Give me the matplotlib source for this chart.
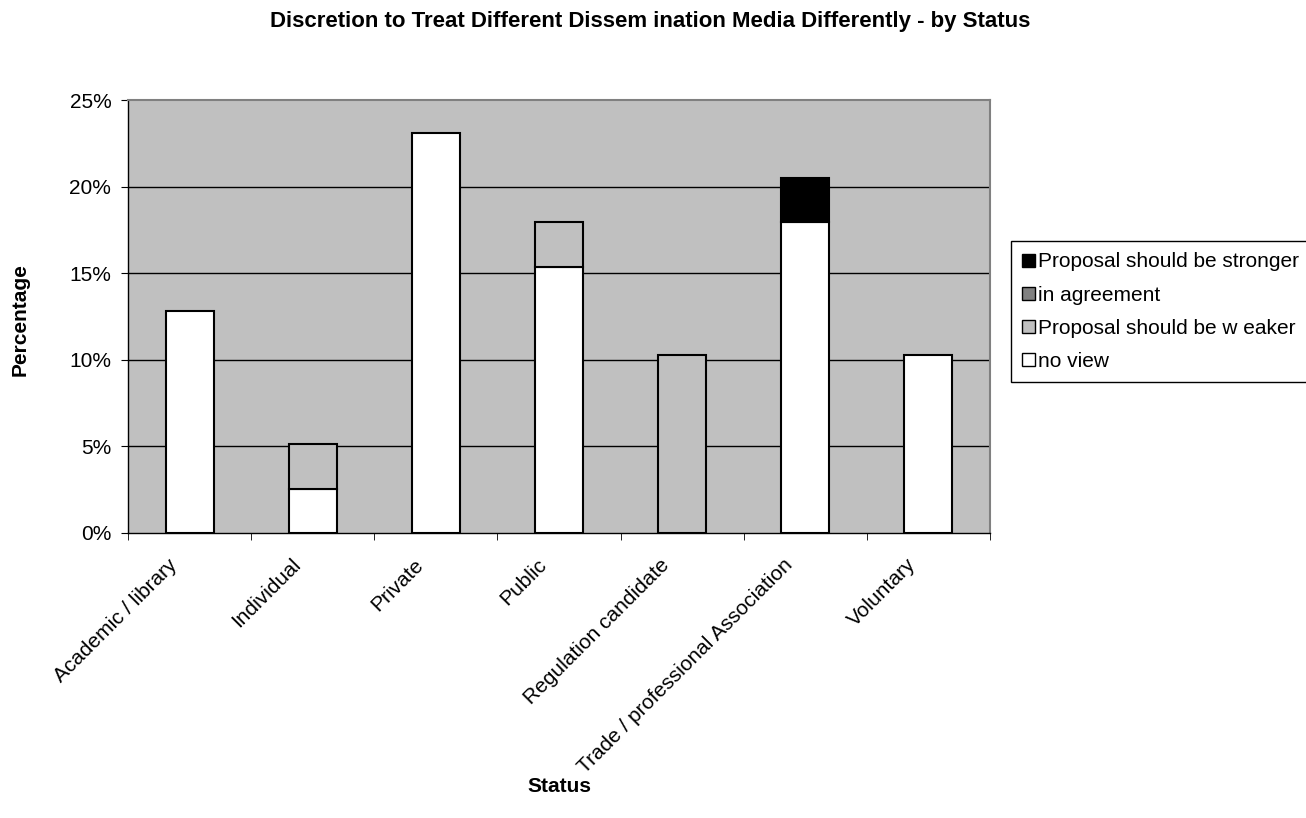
import matplotlib
matplotlib.use("Agg")
import matplotlib.pyplot as plt
import matplotlib.transforms as mtransforms
from matplotlib.patches import Patch
import numpy as np

plt.rcParams['font.family'] = ['Liberation Sans', 'DejaVu Sans']

# Survey responses by respondent status (percent of all responses)
categories = ["Academic / library", "Individual", "Private", "Public",
              "Regulation candidate", "Trade / professional Association", "Voluntary"]
no_view = [12.82, 2.56, 23.08, 15.38, 0.0, 17.95, 10.26]
weaker = [0.0, 2.56, 0.0, 2.56, 10.26, 0.0, 0.0]
agreement = [0.0, 0.0, 0.0, 0.0, 0.0, 0.0, 0.0]
stronger = [0.0, 0.0, 0.0, 0.0, 0.0, 2.56, 0.0]

series_names = ["no view", "Proposal should be w eaker", "in agreement", "Proposal should be stronger"]
series_colors = ["#FFFFFF", "#C0C0C0", "#808080", "#000000"]
y_ticks = [0, 5, 10, 15, 20, 25]

FS = 15

fig = plt.figure(figsize=(13.06, 8.18), dpi=100)
ax = fig.add_axes([128 / 1306, 1 - 533 / 818, (990 - 128) / 1306, (533 - 100) / 818])
ax.set_facecolor("#C0C0C0")

x = np.arange(len(categories))
bottom = np.zeros(len(categories))
for vals, color in zip([no_view, weaker, agreement, stronger], series_colors):
    vals = np.array(vals)
    mask = vals > 0
    ax.bar(x[mask], vals[mask], width=0.39, bottom=bottom[mask], color=color,
           edgecolor="black", linewidth=1.5, zorder=3)
    bottom += vals

ax.set_xlim(-0.5, len(categories) - 0.5)
ax.set_ylim(0, 25)
ax.set_yticks(y_ticks)
ax.set_yticklabels([f"{t}%" for t in y_ticks], fontsize=FS)
for t in y_ticks[1:-1]:
    ax.axhline(t, color="black", linewidth=1.0, zorder=1)

ax.set_xticks(x)
ax.set_xticklabels(categories, rotation=45, ha="right", va="top",
                   rotation_mode="anchor", fontsize=FS)
ax.tick_params(axis="x", which="major", length=0, pad=16)
shift = mtransforms.ScaledTranslation(-22 / 100, 0, fig.dpi_scale_trans)
for lbl in ax.get_xticklabels():
    lbl.set_transform(lbl.get_transform() + shift)
ax.set_xticks(np.arange(-0.5, len(categories), 1.0), minor=True)
ax.tick_params(axis="x", which="minor", length=5, direction="out", color="black")
ax.tick_params(axis="y", length=5, direction="out", pad=7)

for side in ["left", "bottom"]:
    ax.spines[side].set_color("black")
    ax.spines[side].set_linewidth(1.0)
for side in ["top", "right"]:
    ax.spines[side].set_color("#808080")
    ax.spines[side].set_linewidth(1.5)

fig.text(650 / 1306, 1 - 21 / 818, "Discretion to Treat Different Dissem ination Media Differently - by Status",
         ha="center", va="center", fontsize=16, fontweight="bold")
fig.text(20 / 1306, 1 - 320 / 818, "Percentage", rotation=90, ha="center", va="center",
         fontsize=FS, fontweight="bold")
fig.text(559 / 1306, 1 - 786 / 818, "Status", ha="center", va="center",
         fontsize=FS, fontweight="bold")

handles = [Patch(facecolor=c, edgecolor="black", linewidth=1.0) for c in series_colors]
order = [3, 2, 1, 0]
leg = fig.legend([handles[i] for i in order], [series_names[i] for i in order],
                 loc="upper left", bbox_to_anchor=(1011 / 1306, 1 - 241 / 818),
                 fontsize=FS, frameon=True, fancybox=False, framealpha=1,
                 edgecolor="black", handlelength=0.6, handleheight=0.6,
                 handletextpad=0.17, labelspacing=0.68, borderpad=0.55, borderaxespad=0)
leg.get_frame().set_linewidth(1.0)

fig.savefig("out.png", dpi=100, facecolor="white")
